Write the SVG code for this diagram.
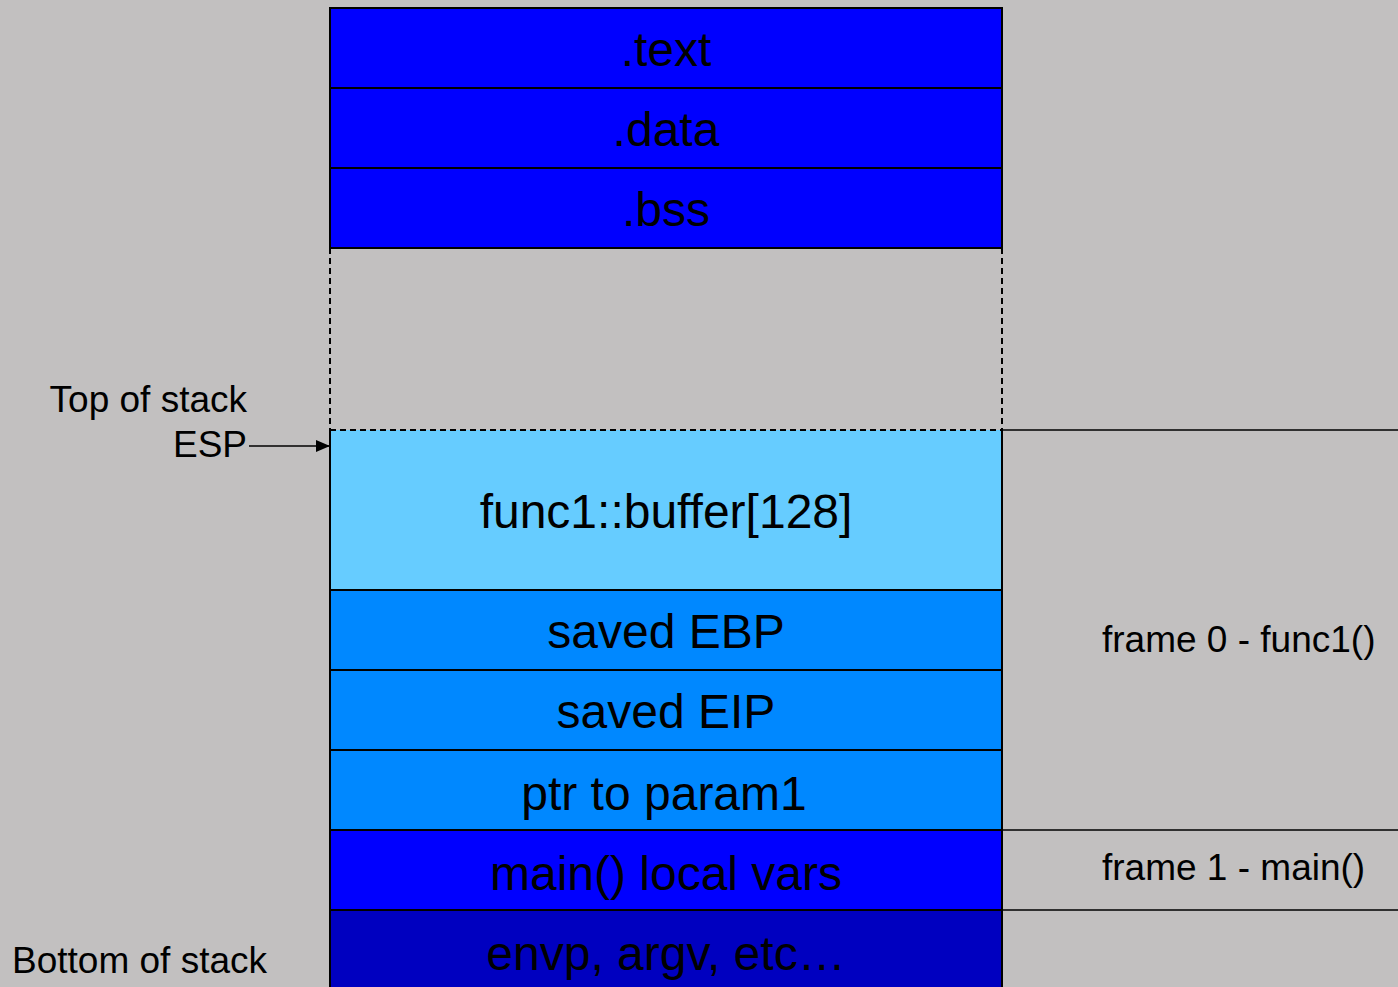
<svg xmlns="http://www.w3.org/2000/svg" width="1398" height="987" viewBox="0 0 1398 987">
  <style>
    .seg { stroke: #000; stroke-width: 2; }
    .big { font-family: "Liberation Sans", Arial, sans-serif; font-size: 48px; fill: #000; text-anchor: middle; }
    .lbl { font-family: "Liberation Sans", Arial, sans-serif; font-size: 37px; fill: #000; }
    .rule { stroke: #000; stroke-width: 1.5; fill: none; }
    .gap { stroke: #000; stroke-width: 2; stroke-dasharray: 6 4; fill: none; }
  </style>
  <defs>
    <marker id="arrow" markerWidth="14" markerHeight="12" refX="14" refY="6" orient="auto" markerUnits="userSpaceOnUse">
      <path d="M0,0 L14,6 L0,12 Z" fill="#000"/>
    </marker>
  </defs>

  <rect width="1398" height="987" fill="#C2C0C0"/>

  <!-- static sections -->
  <g id="text-seg"><rect class="seg" x="330" y="8" width="672" height="80" fill="#0000FF"/><text class="big" x="666" y="66">.text</text></g>
  <g id="data-seg"><rect class="seg" x="330" y="88" width="672" height="80" fill="#0000FF"/><text class="big" x="666" y="146">.data</text></g>
  <g id="bss-seg"><rect class="seg" x="330" y="168" width="672" height="80" fill="#0000FF"/><text class="big" x="666" y="226">.bss</text></g>

  <!-- unused space between heap and stack -->
  <g id="free-space"><path class="gap" d="M330,248 V430 M1002,248 V430 M330,430 H1002"/></g>

  <!-- stack frames -->
  <g id="buffer"><rect x="330" y="430" width="672" height="160" fill="#66CCFF"/><path class="seg" d="M1002,430 V590 H330 V430" fill="none"/><path class="gap" d="M330,430 H1002"/><text class="big" x="666" y="528">func1::buffer[128]</text></g>
  <g id="saved-ebp"><rect class="seg" x="330" y="590" width="672" height="80" fill="#0088FF"/><text class="big" x="666" y="648">saved EBP</text></g>
  <g id="saved-eip"><rect class="seg" x="330" y="670" width="672" height="80" fill="#0088FF"/><text class="big" x="666" y="728">saved EIP</text></g>
  <g id="param-ptr"><rect class="seg" x="330" y="750" width="672" height="80" fill="#0088FF"/><text class="big" x="664" y="810">ptr to param1</text></g>
  <g id="main-locals"><rect class="seg" x="330" y="830" width="672" height="80" fill="#0000FF"/><text class="big" x="666" y="890">main() local vars</text></g>
  <g id="env-args"><rect class="seg" x="330" y="910" width="672" height="90" fill="#0000C0"/><text class="big" x="666" y="970">envp, argv, etc…</text></g>

  <!-- labels -->
  <g id="top-label"><text class="lbl" x="247" y="412" text-anchor="end">Top of stack</text></g>
  <g id="esp-label"><text class="lbl" x="247" y="457" text-anchor="end">ESP</text></g>
  <g id="bottom-label"><text class="lbl" x="12" y="973">Bottom of stack</text></g>
  <g id="frame0-label"><text class="lbl" x="1102" y="652">frame 0 - func1()</text></g>
  <g id="frame1-label"><text class="lbl" x="1102" y="880">frame 1 - main()</text></g>

  <!-- connectors and frame boundaries -->
  <g id="connectors">
    <line x1="249" y1="446" x2="330" y2="446" stroke="#000" stroke-width="1.5" marker-end="url(#arrow)"/>
    <path class="rule" d="M1002,430 H1398 M1002,830 H1398 M1002,910 H1398"/>
  </g>
</svg>
